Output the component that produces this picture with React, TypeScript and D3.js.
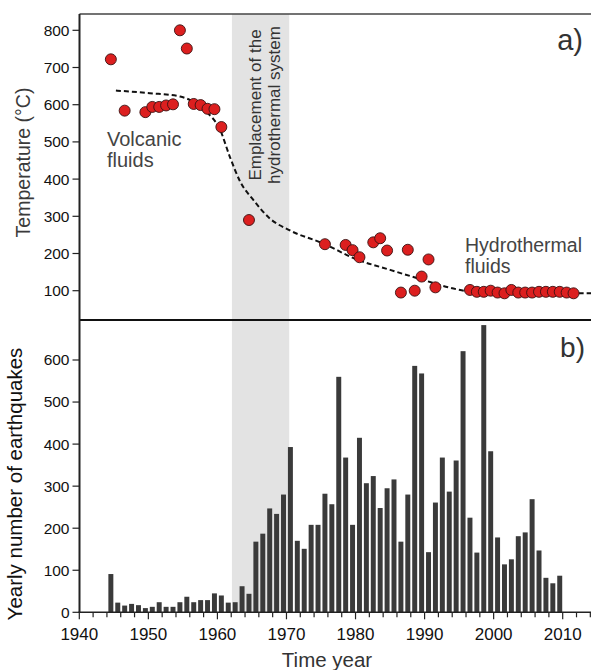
import React from 'react';
import * as d3 from 'd3';

const width = 591;
const height = 670;

// a) fluid temperatures
const volcanicYears = [1944, 1946, 1949, 1950, 1951, 1952, 1953, 1954, 1955, 1956, 1957, 1958, 1959, 1960, 1964];
const volcanicTemps = [722, 584, 580, 594, 594, 598, 601, 800, 751, 602, 599, 589, 588, 540, 290];
const hydroYears = [1975, 1978, 1979, 1980, 1982, 1983, 1984, 1986, 1987, 1988, 1989, 1990, 1991,
  1996, 1997, 1998, 1999, 2000, 2001, 2002, 2003, 2004, 2005, 2006, 2007, 2008, 2009, 2010, 2011];
const hydroTemps = [225, 223, 209, 190, 230, 241, 208, 95, 210, 100, 138, 184, 109,
  102, 97, 97, 100, 95, 93, 102, 95, 95, 95, 97, 97, 97, 97, 95, 93];
const trendYears = [1945.3, 1950.2, 1954.6, 1956.5, 1958.4, 1960.4, 1961.8, 1963.3, 1965.2, 1967.6,
  1970.5, 1975.3, 1980.2, 1985, 1989.8, 1994.6, 1997.5, 2003, 2014.1];
const trendTemps = [638, 631, 622, 608, 581, 532, 460, 393, 344, 294, 262, 227, 184, 156, 129, 104, 96, 94, 93];

// b) yearly number of earthquakes, 1944-2009
const quakeYears = d3.range(1944, 2010);
const quakeCounts = [91, 23, 16, 20, 17, 10, 13, 24, 13, 13, 24, 37, 24, 29, 29, 45, 40, 23, 24, 62,
  44, 168, 187, 247, 234, 280, 393, 170, 151, 208, 208, 282, 257, 560, 368, 208, 415, 307, 324, 248,
  295, 316, 168, 280, 586, 568, 143, 261, 368, 287, 361, 621, 225, 142, 683, 383, 178, 114, 126, 181,
  190, 269, 147, 82, 69, 87];

const tempTicks = [100, 200, 300, 400, 500, 600, 700, 800];
const quakeTicks = [0, 100, 200, 300, 400, 500, 600];
const yearTicks = [1940, 1950, 1960, 1970, 1980, 1990, 2000, 2010];
const minorYearTicks = d3.range(1942, 2015, 2).filter((y) => y % 10 !== 0);

const shadeStart = 1962.1;
const shadeEnd = 1970.4;

const left = 79.5;
const top = 14;
const mid = 320;
const bottom = 612.3;
const midYear = 0.57; // samples sit in the middle of their year

const font = "'Liberation Sans', Arial, sans-serif";

export default function App() {
  const x = d3.scaleLinear().domain([1940, 2010]).range([79.3, 562.7]);
  const yT = d3.scaleLinear().domain([100, 800]).range([290.7, 30.3]);
  const yQ = d3.scaleLinear().domain([0, 600]).range([bottom, 360]);

  const trend = d3
    .line<number>()
    .x((d, i) => x(trendYears[i]))
    .y((d) => yT(d))
    .curve(d3.curveMonotoneX);

  const points = [
    ...volcanicYears.map((yr, i) => ({ yr, t: volcanicTemps[i] })),
    ...hydroYears.map((yr, i) => ({ yr, t: hydroTemps[i] })),
  ];

  return (
    <svg
      width={width}
      height={height}
      style={{ position: 'absolute', left: 0, top: 0, background: '#fff' }}
      fontFamily={font}
    >
      {/* emplacement period */}
      <rect x={x(shadeStart)} y={top} width={x(shadeEnd) - x(shadeStart)} height={bottom - top} fill="#e3e3e3" />

      {/* frame */}
      <line x1={left} x2={width} y1={top} y2={top} stroke="#444" strokeWidth={1.5} />
      <line x1={left} x2={width} y1={mid} y2={mid} stroke="#111" strokeWidth={2} />
      <line x1={left} x2={left} y1={top} y2={bottom} stroke="#222" strokeWidth={2} />

      {/* a) */}
      <path d={trend(trendTemps) ?? ''} fill="none" stroke="#111" strokeWidth={2} strokeDasharray="5,3" />
      {points.map((p, i) => (
        <circle key={i} cx={x(p.yr + midYear)} cy={yT(p.t)} r={5.5} fill="#dc1f1f" stroke="#3a1212" strokeWidth={0.9} />
      ))}
      {tempTicks.map((t) => (
        <g key={t} transform={`translate(${left},${yT(t)})`}>
          <line x1={-7} x2={0} stroke="#222" strokeWidth={1.2} />
          <text x={-10} dy="0.35em" textAnchor="end" fontSize={15.5} fill="#111">{t}</text>
        </g>
      ))}
      <text transform={`translate(30,162.5) rotate(-90)`} textAnchor="middle" fontSize={19.5} fill="#3a3a3a">
        Temperature (°C)
      </text>
      <text fontSize={20} fill="#444">
        <tspan x={107} y={145.7}>Volcanic</tspan>
        <tspan x={107} y={166.7}>fluids</tspan>
      </text>
      <text fontSize={19.5} fill="#444">
        <tspan x={465} y={251.7}>Hydrothermal</tspan>
        <tspan x={465} y={273.3}>fluids</tspan>
      </text>
      <text transform={`translate(261,105) rotate(-90)`} textAnchor="middle" fontSize={17} fill="#333">
        Emplacement of the
      </text>
      <text transform={`translate(280,105) rotate(-90)`} textAnchor="middle" fontSize={17} fill="#333">
        hydrothermal system
      </text>
      <text x={583} y={50} textAnchor="end" fontSize={29} fill="#333">a)</text>

      {/* b) */}
      {quakeYears.map((yr, i) => (
        <rect
          key={yr}
          x={x(yr + 0.21)}
          y={yQ(quakeCounts[i])}
          width={x(yr + 0.93) - x(yr + 0.21)}
          height={bottom - yQ(quakeCounts[i])}
          fill="#3a3a3a"
        />
      ))}
      {quakeTicks.map((q) => (
        <g key={q} transform={`translate(${left},${yQ(q)})`}>
          <line x1={-7} x2={0} stroke="#222" strokeWidth={1.2} />
          <text x={-10} dy="0.35em" textAnchor="end" fontSize={15.5} fill="#111">{q}</text>
        </g>
      ))}
      <text transform={`translate(21.5,484) rotate(-90)`} textAnchor="middle" fontSize={20.5} fill="#111">
        Yearly number of earthquakes
      </text>
      <text x={585} y={357} textAnchor="end" fontSize={28} fill="#333">b)</text>

      {/* x axis */}
      <line x1={left - 1} x2={width} y1={bottom} y2={bottom} stroke="#222" strokeWidth={1.5} />
      {minorYearTicks.map((yr) => (
        <line key={yr} x1={x(yr)} x2={x(yr)} y1={bottom} y2={bottom + 5} stroke="#222" strokeWidth={1.2} />
      ))}
      {yearTicks.map((yr) => (
        <g key={yr} transform={`translate(${x(yr)},${bottom})`}>
          <line y1={0} y2={7} stroke="#222" strokeWidth={1.2} />
          <text y={27.5} textAnchor="middle" fontSize={17} fill="#111">{yr}</text>
        </g>
      ))}
      <text x={327} y={667} textAnchor="middle" fontSize={20.5} fill="#333">Time year</text>
    </svg>
  );
}
